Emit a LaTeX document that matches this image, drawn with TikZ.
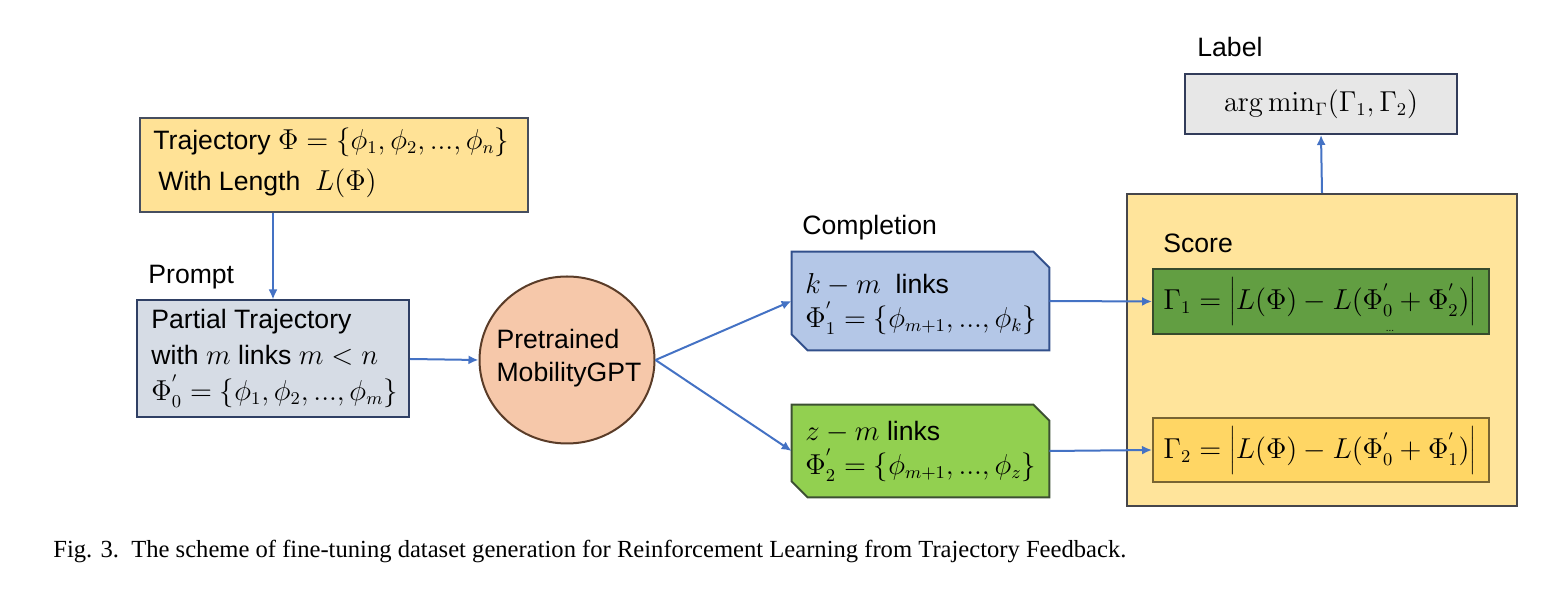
\documentclass[tikz,border=0pt]{standalone}
\usepackage[no-math]{fontspec}
\setmainfont{Liberation Sans}
\newfontfamily\capfont{Liberation Serif}
\usetikzlibrary{shapes.geometric,arrows.meta}
\definecolor{topfill}{RGB}{255,226,150}
\definecolor{topdraw}{RGB}{70,78,95}
\definecolor{promptfill}{RGB}{214,220,229}
\definecolor{promptdraw}{RGB}{47,63,100}
\definecolor{circfill}{RGB}{246,200,170}
\definecolor{circdraw}{RGB}{90,60,40}
\definecolor{bluefill}{RGB}{180,199,231}
\definecolor{bluedraw}{RGB}{50,80,140}
\definecolor{greenfill}{RGB}{146,208,80}
\definecolor{greendraw}{RGB}{60,80,50}
\definecolor{scorefill}{RGB}{255,228,155}
\definecolor{scoredraw}{RGB}{70,70,75}
\definecolor{gonefill}{RGB}{98,158,66}
\definecolor{gonedraw}{RGB}{55,75,45}
\definecolor{gtwofill}{RGB}{255,214,100}
\definecolor{gtwodraw}{RGB}{120,100,50}
\definecolor{labfill}{RGB}{231,231,231}
\definecolor{labdraw}{RGB}{50,60,90}
\definecolor{arrowcol}{RGB}{68,114,196}
\tikzset{
  box/.style={draw, line width=1pt, inner sep=0pt, rectangle},
  chframe/.style={inner sep=0pt, rectangle},
  chline/.style={line width=1pt, line join=miter},
  txt/.style={anchor=west, inner sep=0pt, font=\fontsize{13.3}{16}\selectfont},
  conn/.style={draw=arrowcol, line width=1pt, -{Latex[length=5pt,width=4.5pt]}}
}
\newcommand{\chamf}[3]{%
  \filldraw[chline, fill=#2, draw=#3] (#1.north west) -- ([xshift=-8pt]#1.north east) -- ([yshift=-8pt]#1.north east)
    -- (#1.south east) -- ([xshift=8pt]#1.south west) -- ([yshift=8pt]#1.south west) -- cycle;}
\begin{document}
\begin{tikzpicture}[x=0.5pt,y=-0.5pt]
\useasboundingbox (0,0) rectangle (1568,597);
% top box
\node[box, fill=topfill, draw=topdraw, minimum width=194pt, minimum height=47pt] (top) at (334,165) {};
\node[txt] (t1) at (153,142) {Trajectory $\Phi=\{\phi_1,\phi_2,...,\phi_n\}$};
\node[txt] (t2) at (158,183) {With Length \ $L(\Phi)$};
% prompt
\node[txt] (promptlab) at (148,277) {Prompt};
\node[box, fill=promptfill, draw=promptdraw, minimum width=136pt, minimum height=58.5pt] (prompt) at (273,359) {};
\node[txt] (p1) at (151,322) {Partial Trajectory};
\node[txt] (p2) at (151,355) {with $m$ links $m<n$};
\node[txt] (p3) at (151,391) {$\Phi^{'}_0=\{\phi_1,\phi_2,...,\phi_m\}$};
% circle
\node[ellipse, draw=circdraw, line width=1pt, fill=circfill, minimum width=87.5pt, minimum height=83.5pt, inner sep=0pt] (circ) at (567,360) {};
\node[align=left, inner sep=0pt, font=\fontsize{13.3}{16.5}\selectfont] (circtxt) at (569,358) {Pretrained\\MobilityGPT};
% completions
\node[txt] (complab) at (802,228) {Completion};
\node[chframe, minimum width=128.5pt, minimum height=49pt] (blue) at (920.5,301) {};
\chamf{blue}{bluefill}{bluedraw}
\node[txt] (b1) at (805,285) {$k-m$\ \ links};
\node[txt] (b2) at (805,318) {$\Phi^{'}_1=\{\phi_{m+1},...,\phi_k\}$};
\node[chframe, minimum width=128.5pt, minimum height=46pt] (green) at (920.5,451) {};
\chamf{green}{greenfill}{greendraw}
\node[txt] (c1) at (805,432) {$z-m$ links};
\node[txt] (c2) at (805,465) {$\Phi^{'}_2=\{\phi_{m+1},...,\phi_z\}$};
% score
\node[box, fill=scorefill, draw=scoredraw, minimum width=195pt, minimum height=156pt] (score) at (1322,350) {};
\node[txt] (scorelab) at (1163,243) {Score};
\node[box, fill=gonefill, draw=gonedraw, minimum width=168pt, minimum height=32.5pt] (gone) at (1321,301.5) {};
\node[txt] (g1t) at (1163,302) {$\Gamma_1=\bigg|L(\Phi)-L(\Phi^{'}_0+\Phi^{'}_2)\bigg|$};
\node[inner sep=0pt, font=\tiny] (dots) at (1390,331) {...};
\node[box, fill=gtwofill, draw=gtwodraw, minimum width=168pt, minimum height=32pt] (gtwo) at (1321,450) {};
\node[txt] (g2t) at (1163,451) {$\Gamma_2=\bigg|L(\Phi)-L(\Phi^{'}_0+\Phi^{'}_1)\bigg|$};
% label
\node[txt] (lablab) at (1197,47) {Label};
\node[box, fill=labfill, draw=labdraw, minimum width=136pt, minimum height=30pt,
  font=\fontsize{13.3}{16}\selectfont] (lab) at (1321,104) {$\arg\min\nolimits_{\Gamma}(\Gamma_1,\Gamma_2)$};
% connectors
\draw[conn] (top.south -| prompt.north) -- (prompt.north);
\draw[conn] (prompt.east) -- (circ.west);
\draw[conn] (circ.east) -- (blue.west);
\draw[conn] (circ.east) -- (green.west);
\draw[conn] (blue.east) -- (gone.west);
\draw[conn] (green.east) -- (gtwo.west);
\draw[conn] (score.north) -- (lab.south);
% caption
\node[anchor=west, inner sep=0pt, font=\capfont\fontsize{12.3}{14}\selectfont] (cap) at (53,551)
  {Fig. 3.\ \ The scheme of fine-tuning dataset generation for Reinforcement Learning from Trajectory Feedback.};
\end{tikzpicture}
\end{document}
